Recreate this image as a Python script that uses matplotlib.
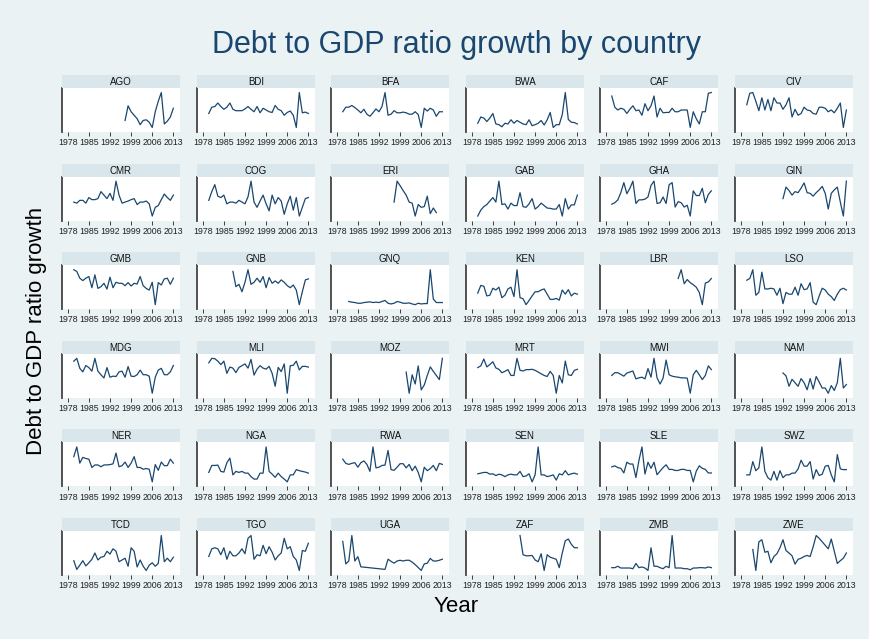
import matplotlib.pyplot as plt
import numpy as np
from matplotlib.patches import Rectangle

plt.rcParams['font.family'] = ['Liberation Sans', 'DejaVu Sans']

nan = np.nan

# values (relative units, each panel has its own y scale)
countries = ['AGO', 'BDI', 'BFA', 'BWA', 'CAF', 'CIV',
             'CMR', 'COG', 'ERI', 'GAB', 'GHA', 'GIN',
             'GMB', 'GNB', 'GNQ', 'KEN', 'LBR', 'LSO',
             'MDG', 'MLI', 'MOZ', 'MRT', 'MWI', 'NAM',
             'NER', 'NGA', 'RWA', 'SEN', 'SLE', 'SWZ',
             'TCD', 'TGO', 'UGA', 'ZAF', 'ZMB', 'ZWE']

# first year of each series (all end in 2013 except ERI)
start_year = {'AGO': 1997, 'ERI': 1997, 'GIN': 1992, 'GNB': 1988, 'GNQ': 1982,
              'LBR': 2002, 'MOZ': 2001, 'NAM': 1992, 'ZAF': 1994, 'ZWE': 1982}

ago = [40, 82, 65, 55, 45, 28, 40, 42, 35, 20, 65, 95, 120, 30, 38, 50, 75]
bdi = [60, 78, 80, 90, 80, 72, 78, 90, 72, 68, 68, 68, 73, 80, 72, 65, 80, 62, 75, 70,
       65, 63, 83, 72, 68, 55, 63, 67, 55, 20, 120, 62, 64, 60]
bfa = [65, 78, 78, 83, 77, 70, 62, 72, 58, 52, 62, 73, 65, 80, 120, 55, 58, 68, 62, 62,
       64, 62, 58, 58, 65, 57, 20, 75, 67, 75, 70, 52, 65, 65]
bwa = [32, 50, 47, 37, 47, 60, 30, 28, 22, 32, 30, 42, 32, 40, 35, 30, 28, 42, 25, 28,
       32, 40, 27, 42, 63, 20, 28, 28, 57, 120, 43, 35, 34, 30]
caf = [110, 78, 70, 75, 72, 60, 72, 82, 68, 70, 55, 88, 68, 82, 110, 50, 75, 62, 63, 63,
       75, 65, 65, 70, 70, 70, 20, 65, 45, 30, 65, 65, 118, 120]
civ = [85, 118, 120, 95, 68, 105, 70, 100, 68, 105, 90, 90, 72, 85, 105, 50, 72, 55, 60, 78,
       70, 68, 60, 58, 78, 78, 75, 65, 70, 62, 75, 90, 20, 70]
cmr = [65, 62, 70, 70, 62, 78, 72, 72, 75, 95, 85, 75, 90, 70, 125, 85, 62, 65, 68, 72,
       75, 58, 65, 65, 68, 60, 25, 50, 55, 72, 88, 78, 70, 85]
cog = [70, 95, 115, 82, 78, 85, 60, 65, 65, 62, 70, 65, 60, 80, 125, 65, 50, 68, 85, 60,
       40, 85, 60, 78, 68, 30, 60, 82, 42, 78, 25, 50, 75, 78]
eri = [65, 125, 112, 98, 85, 65, 62, 25, 58, 50, 52, 82, 32, 48, 35]
gab = [25, 42, 52, 58, 68, 78, 65, 125, 58, 60, 45, 62, 55, 55, 92, 52, 50, 60, 75, 45,
       52, 62, 55, 48, 47, 45, 45, 58, 25, 75, 45, 57, 57, 85]
gha = [58, 62, 70, 90, 118, 87, 102, 122, 60, 70, 70, 72, 78, 110, 122, 60, 62, 78, 60, 112,
       118, 50, 65, 62, 50, 55, 25, 95, 82, 82, 102, 62, 85, 95]
gin = [75, 108, 98, 85, 95, 92, 105, 120, 92, 90, 82, 92, 100, 110, 90, 45, 90, 100, 108, 65,
       25, 125]
gmb = [120, 115, 95, 88, 95, 100, 67, 105, 65, 70, 80, 63, 98, 67, 83, 80, 80, 73, 82, 72,
       80, 78, 100, 73, 65, 60, 83, 17, 82, 75, 93, 95, 77, 95]
gnb = [115, 70, 77, 55, 83, 120, 77, 83, 95, 83, 100, 67, 97, 80, 87, 80, 90, 83, 73, 67,
       75, 60, 17, 55, 90, 93]
gnq = [30, 28, 27, 25, 25, 27, 28, 29, 27, 28, 27, 30, 33, 25, 23, 25, 30, 28, 25, 25,
       26, 23, 21, 25, 23, 24, 24, 120, 37, 27, 27, 27]
ken = [53, 75, 73, 45, 47, 67, 62, 70, 40, 47, 65, 70, 43, 120, 40, 37, 20, 32, 45, 57,
       57, 62, 65, 50, 35, 35, 38, 33, 62, 50, 63, 45, 53, 50]
lbr = [95, 120, 80, 92, 83, 77, 70, 55, 20, 82, 85, 95]
lso = [90, 95, 120, 47, 55, 113, 65, 65, 67, 65, 47, 67, 23, 55, 50, 50, 70, 47, 80, 63,
       65, 83, 27, 20, 45, 67, 62, 50, 43, 32, 50, 63, 67, 62]
mdg = [110, 118, 90, 80, 98, 92, 82, 118, 82, 72, 63, 92, 65, 68, 67, 80, 82, 65, 95, 68,
       67, 72, 85, 72, 72, 68, 20, 65, 85, 90, 72, 72, 80, 98]
mli = [105, 118, 117, 110, 100, 110, 75, 93, 90, 77, 92, 97, 102, 90, 115, 70, 87, 97, 90, 87,
       95, 75, 38, 92, 80, 102, 18, 97, 98, 110, 85, 95, 95, 93]
moz = [80, 18, 72, 45, 98, 28, 42, 70, 95, 82, 70, 58, 120]
mrt = [93, 98, 118, 95, 102, 110, 92, 88, 78, 82, 87, 70, 70, 120, 85, 83, 87, 87, 88, 85,
       80, 75, 70, 67, 82, 70, 18, 70, 48, 112, 72, 70, 85, 88]
mwi = [70, 78, 78, 73, 68, 77, 80, 83, 60, 63, 65, 60, 90, 65, 120, 63, 45, 62, 115, 72,
       68, 66, 65, 63, 63, 62, 18, 72, 85, 72, 58, 70, 98, 87]
nam = [78, 70, 40, 60, 50, 40, 62, 50, 30, 62, 32, 68, 52, 35, 35, 20, 42, 28, 50, 120,
       35, 45]
ner = [85, 112, 67, 83, 80, 78, 55, 62, 62, 57, 62, 62, 63, 65, 95, 57, 60, 70, 55, 67,
       85, 55, 55, 50, 52, 50, 15, 63, 47, 70, 60, 60, 78, 67]
nga = [42, 62, 62, 63, 45, 43, 70, 83, 35, 45, 42, 45, 40, 40, 30, 23, 23, 40, 40, 115,
       45, 37, 28, 40, 30, 23, 15, 35, 35, 50, 47, 45, 43, 40]
rwa = [80, 68, 65, 68, 70, 57, 70, 75, 65, 45, 115, 55, 57, 62, 63, 105, 50, 48, 57, 67,
       67, 55, 65, 47, 60, 42, 15, 57, 47, 53, 62, 47, 68, 65]
sen = [38, 40, 42, 42, 37, 38, 33, 37, 35, 30, 35, 37, 35, 35, 45, 30, 32, 38, 15, 35,
       115, 35, 35, 30, 32, 35, 20, 38, 35, 47, 35, 38, 40, 37]
sle = [57, 60, 55, 53, 40, 70, 65, 65, 27, 75, 113, 37, 70, 53, 70, 35, 45, 55, 63, 50,
       50, 47, 47, 50, 50, 47, 47, 15, 45, 60, 53, 50, 40, 40]
swz = [35, 35, 73, 47, 55, 115, 45, 27, 20, 45, 20, 47, 27, 35, 35, 40, 40, 52, 77, 60,
       60, 73, 23, 50, 33, 37, 60, 62, 35, 15, 93, 52, 50, 50]
tcd = [48, 23, 35, 48, 33, 42, 52, 70, 50, 58, 60, 75, 67, 82, 75, 45, 50, 55, 32, 85,
       75, 30, 50, 32, 20, 35, 42, 32, 40, 120, 45, 55, 45, 58]
tgo = [60, 82, 85, 82, 65, 85, 52, 75, 62, 62, 70, 82, 68, 112, 120, 52, 65, 62, 92, 68,
       88, 72, 50, 62, 70, 112, 82, 88, 60, 50, 20, 77, 75, 98]
uga = [102, 40, 48, 118, 48, 60, 32, nan, nan, nan, nan, nan, nan, nan, 25, 53, 47, 42, 48, 50,
       48, 50, 50, 45, 38, 30, 22, 40, 42, 55, 48, 48, 50, 53]
zaf = [120, 65, 62, 62, 63, 50, 45, 68, 20, 65, 58, 55, 52, 28, 70, 105, 110, 95, 85, 85]
zmb = [28, 28, 32, 27, 27, 27, 27, 25, 40, 28, 30, 27, 20, 85, 32, 32, 28, 25, 32, 28,
       120, 27, 27, 27, 25, 25, 22, 27, 27, 28, 28, 27, 30, 28]
zwe = [80, 20, 102, 108, 72, 75, 42, 60, 68, 85, 108, 77, 70, 62, 38, 52, 55, 60, 63, 60,
       88, 120, 112, 102, 92, 82, 110, 75, 40, 48, 55, 70]

values = [ago, bdi, bfa, bwa, caf, civ, cmr, cog, eri, gab, gha, gin,
          gmb, gnb, gnq, ken, lbr, lso, mdg, mli, moz, mrt, mwi, nam,
          ner, nga, rwa, sen, sle, swz, tcd, tgo, uga, zaf, zmb, zwe]

year_ticks = [1978, 1985, 1992, 1999, 2006, 2013]

navy = '#1A476F'
W, H = 870, 639
fig = plt.figure(figsize=(W / 100, H / 100), dpi=100, facecolor='#EAF2F3')

col_x = [62, 197, 331, 466, 600, 735]
pw = 118
strip_h = 13
plot_h = 44

for k, (code, vals) in enumerate(zip(countries, values)):
    r, c = divmod(k, 6)
    top = 75 + 88.6 * r
    x0 = col_x[c]

    # strip header
    fig.patches.append(Rectangle((x0 / W, 1 - (top + strip_h) / H), pw / W, strip_h / H,
                                 transform=fig.transFigure, facecolor='#D9E6EB',
                                 edgecolor='none'))
    fig.text((x0 + pw / 2) / W, 1 - (top + strip_h / 2 + 0.5) / H, code,
             ha='center', va='center', fontsize=7, color='#111111')

    ax = fig.add_axes([x0 / W, 1 - (top + strip_h + plot_h) / H, pw / W, plot_h / H])
    ax.set_facecolor('white')

    y = np.array(vals, dtype=float)
    yrs = np.arange(start_year.get(code, 1980), start_year.get(code, 1980) + len(y))
    ok = ~np.isnan(y)
    ax.plot(yrs[ok], y[ok], color=navy, linewidth=0.9)

    ax.set_xlim(1976.1, 2015.2)
    ax.margins(y=0.13)
    ax.set_xticks(year_ticks)
    ax.set_xticklabels([str(t) for t in year_ticks], fontsize=6.3)
    ax.tick_params(axis='x', length=3, width=0.6, pad=1.5, colors='#222222')
    ax.set_yticks([])

    for s in ['top', 'right', 'bottom']:
        ax.spines[s].set_visible(False)
    ax.spines['left'].set_linewidth(1.3)
    ax.spines['left'].set_color('#444444')

fig.text(456 / W, 1 - 45 / H, 'Debt to GDP ratio growth by country',
         ha='center', va='center', fontsize=22, color=navy)
fig.text(37 / W, 1 - 331 / H, 'Debt to GDP ratio growth', rotation=90,
         ha='center', va='center', fontsize=16)
fig.text(456 / W, 1 - 606 / H, 'Year', ha='center', va='center', fontsize=16)

fig.savefig('out.png', dpi=100, facecolor=fig.get_facecolor())
